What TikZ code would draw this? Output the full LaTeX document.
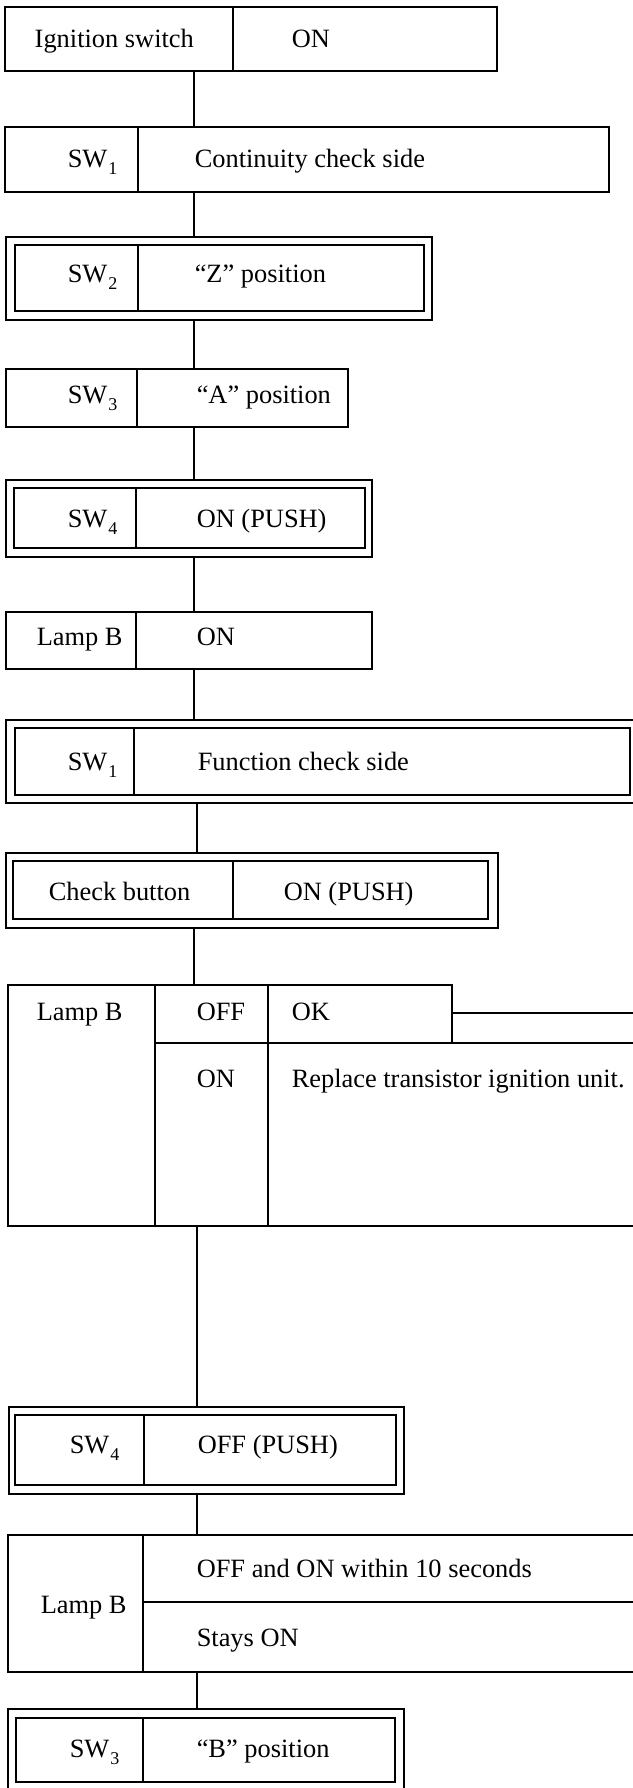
\documentclass[tikz,border=0pt]{standalone}
\usepackage{fontspec}
\setmainfont{Liberation Serif}
\usetikzlibrary{fit}
\newcommand\swsub[1]{SW\kern0.5pt\raisebox{-3.5pt}{\fontsize{9}{10}\selectfont #1}}
\begin{document}
\begin{tikzpicture}[x=0.5pt,y=-0.5pt,line width=0.75pt,
  box/.style={draw,inner sep=0pt,line width=0.75pt},
  frame/.style={inner sep=0pt},
  txt/.style={anchor=base west,inner sep=0pt,font=\fontsize{13.2}{15}\selectfont},
  link/.style={draw,line width=0.75pt}]
\useasboundingbox (0,0) rectangle (632,1788);
\coordinate (ca) at (194,0);
\coordinate (cb) at (197,0);

% 1 Ignition switch
\node[box,fit={(5,7)(497,71)}] (ign) {};
\draw (233,7) -- (233,71);
\node[txt] (ign1) at (34,47) {Ignition switch};
\node[txt] (ign2) at (291,47) {ON};

% 2 SW1 continuity
\node[box,fit={(5,127)(609,192)}] (swa) {};
\draw (138,127) -- (138,192);
\node[txt] (swa1) at (67,167) {\swsub{1}};
\node[txt] (swa2) at (194,167) {Continuity check side};

% 3 SW2
\node[box,fit={(6,237)(432,320)}] (swb) {};
\node[box,fit={(15,245)(424,311)}] (swbi) {};
\draw (138,245) -- (138,311);
\node[txt] (swb1) at (67,282) {\swsub{2}};
\node[txt] (swb2) at (194,282) {“Z” position};

% 4 SW3
\node[box,fit={(6,369)(348,427)}] (swc) {};
\draw (137,369) -- (137,427);
\node[txt] (swc1) at (67,403) {\swsub{3}};
\node[txt] (swc2) at (196,403) {“A” position};

% 5 SW4
\node[box,fit={(6,480)(372,557)}] (swd) {};
\node[box,fit={(14,488)(365,548)}] (swdi) {};
\draw (136,488) -- (136,548);
\node[txt] (swd1) at (67,527) {\swsub{4}};
\node[txt] (swd2) at (196,527) {ON (PUSH)};

% 6 Lamp B ON
\node[box,fit={(6,612)(372,669)}] (lpa) {};
\draw (136,612) -- (136,669);
\node[txt] (lpa1) at (36,645) {Lamp B};
\node[txt] (lpa2) at (196,645) {ON};

% 7 SW1 function
\node[box,fit={(6,720)(645,803)}] (swe) {};
\node[box,fit={(15,728)(630,795)}] (swei) {};
\draw (134,728) -- (134,795);
\node[txt] (swe1) at (67,770) {\swsub{1}};
\node[txt] (swe2) at (197,770) {Function check side};

% 8 Check button
\node[box,fit={(6,853)(498,928)}] (chk) {};
\node[box,fit={(13,861)(488,919)}] (chki) {};
\draw (233,861) -- (233,919);
\node[txt] (chk1) at (48,900) {Check button};
\node[txt] (chk2) at (283,900) {ON (PUSH)};

% 9 Lamp B table
\node[frame,fit={(8,985)(640,1226)}] (tba) {};
\draw (452,985) -- (8,985) -- (8,1226) -- (645,1226);
\draw (155,985) -- (155,1226);
\draw (268,985) -- (268,1226);
\draw (155,1043) -- (645,1043);
\node[box,fit={(268,985)(452,1043)}] (okc) {};
\coordinate (okend) at (645,1013);
\draw[link] (okc.east |- okend) -- (okend);
\node[txt] (tba1) at (36,1020) {Lamp B};
\node[txt] (tba2) at (196,1020) {OFF};
\node[txt] (tba3) at (291,1020) {OK};
\node[txt] (tba4) at (196,1087) {ON};
\node[txt] (tba5) at (291,1087) {Replace transistor ignition unit.};

% 10 SW4 OFF
\node[box,fit={(9,1407)(404,1494)}] (swf) {};
\node[box,fit={(15,1415)(396,1485)}] (swfi) {};
\draw (144,1415) -- (144,1485);
\node[txt] (swf1) at (69,1453) {\swsub{4}};
\node[txt] (swf2) at (197,1453) {OFF (PUSH)};

% 11 Lamp B table 2
\node[frame,fit={(8,1535)(640,1672)}] (tbb) {};
\draw (645,1535) -- (8,1535) -- (8,1672) -- (645,1672);
\draw (143,1535) -- (143,1672);
\draw (143,1602) -- (645,1602);
\node[txt] (tbb1) at (40,1613) {Lamp B};
\node[txt] (tbb2) at (196,1577) {OFF and ON within 10 seconds};
\node[txt] (tbb3) at (196,1646) {Stays ON};

% 12 SW3 B
\node[box,fit={(8,1709)(404,1792)}] (swg) {};
\node[box,fit={(16,1718)(395,1782)}] (swgi) {};
\draw (143,1718) -- (143,1782);
\node[txt] (swg1) at (69,1757) {\swsub{3}};
\node[txt] (swg2) at (196,1757) {“B” position};

% connectors
\draw[link] (ign.south -| ca) -- (swa.north -| ca);
\draw[link] (swa.south -| ca) -- (swb.north -| ca);
\draw[link] (swb.south -| ca) -- (swc.north -| ca);
\draw[link] (swc.south -| ca) -- (swd.north -| ca);
\draw[link] (swd.south -| ca) -- (lpa.north -| ca);
\draw[link] (lpa.south -| ca) -- (swe.north -| ca);
\draw[link] (swe.south -| cb) -- (chk.north -| cb);
\draw[link] (chk.south -| ca) -- (tba.north -| ca);
\draw[link] (tba.south -| cb) -- (swf.north -| cb);
\draw[link] (swf.south -| cb) -- (tbb.north -| cb);
\draw[link] (tbb.south -| cb) -- (swg.north -| cb);
\end{tikzpicture}
\end{document}
